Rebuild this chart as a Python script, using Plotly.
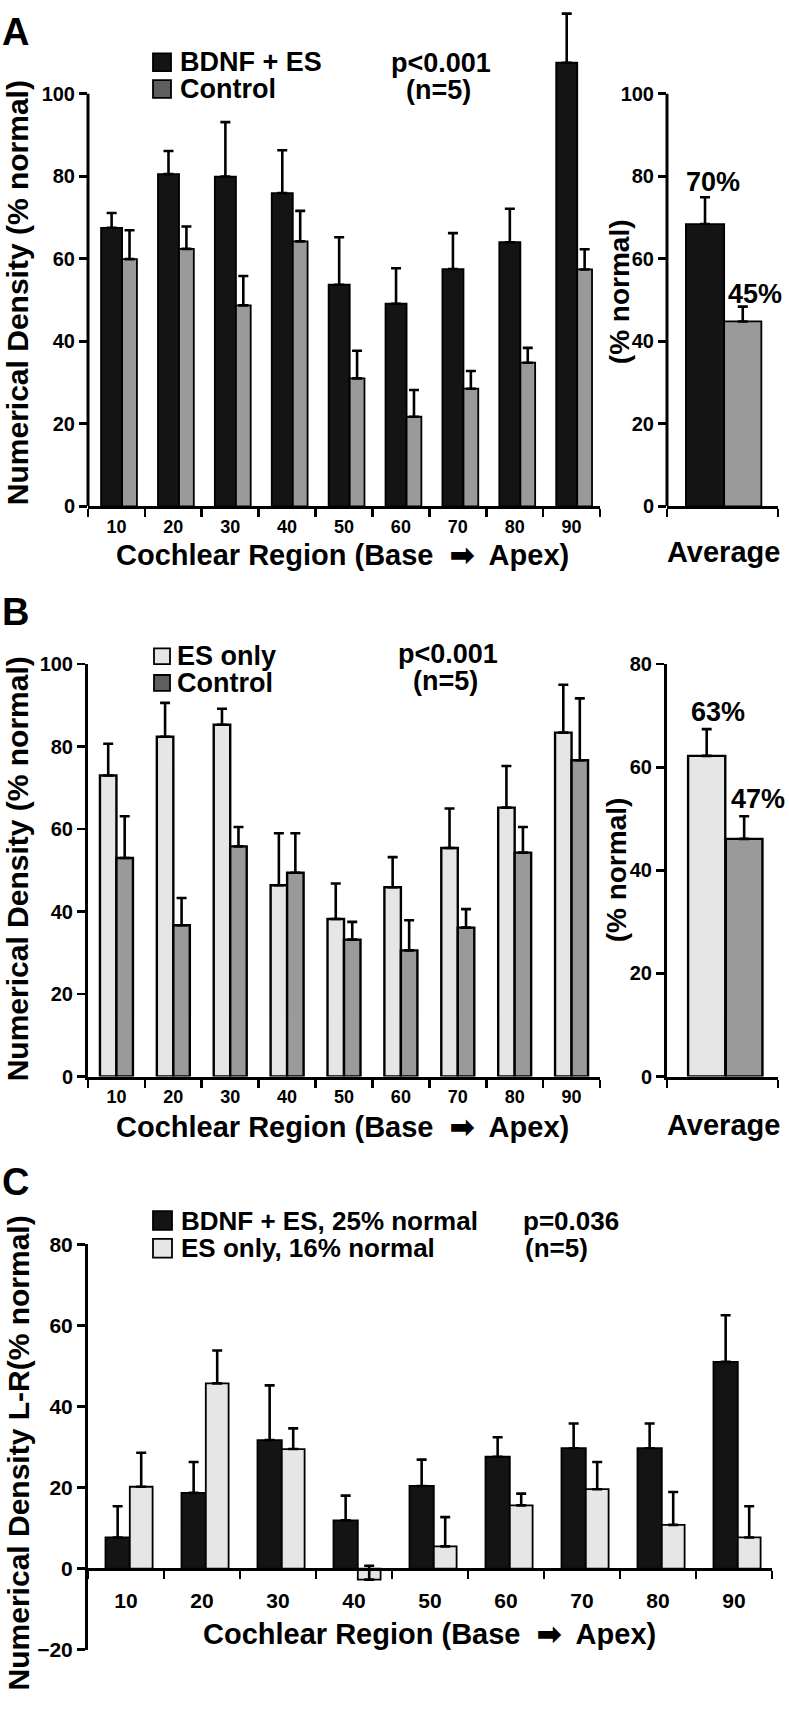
import plotly.graph_objects as go

# ── Data ──────────────────────────────────────────────────
regions = ["10", "20", "30", "40", "50", "60", "70", "80", "90"]

# Panel A: BDNF + ES vs Control
a_bdnf     = [67.5, 80.5, 79.9, 75.9, 53.7, 49.1, 57.5, 64.0, 107.5]
a_bdnf_sem = [3.6, 5.6, 13.2, 10.4, 11.5, 8.6, 8.7, 8.1, 11.9]
a_ctrl     = [59.9, 62.4, 48.7, 64.2, 31.0, 21.7, 28.5, 34.8, 57.4]
a_ctrl_sem = [7.0, 5.4, 7.1, 7.4, 6.7, 6.5, 4.3, 3.6, 4.9]
a_avg      = [68.4, 44.8]
a_avg_sem  = [6.5, 3.6]
a_avg_lbl  = ["70%", "45%"]

# Panel B: ES only vs Control
b_es       = [73.0, 82.4, 85.3, 46.4, 38.2, 45.9, 55.4, 65.2, 83.4]
b_es_sem   = [7.7, 8.2, 3.9, 12.6, 8.6, 7.3, 9.6, 10.1, 11.6]
b_ctrl     = [53.0, 36.7, 55.8, 49.4, 33.2, 30.6, 36.1, 54.3, 76.7]
b_ctrl_sem = [10.1, 6.6, 4.7, 9.6, 4.3, 7.3, 4.5, 6.2, 15.0]
b_avg      = [62.2, 46.1]
b_avg_sem  = [5.2, 4.4]
b_avg_lbl  = ["63%", "47%"]

# Panel C: L-R difference
c_bdnf     = [7.7, 18.7, 31.7, 11.9, 20.4, 27.6, 29.7, 29.7, 51.0]
c_bdnf_sem = [7.7, 7.6, 13.5, 6.1, 6.5, 4.8, 6.1, 6.1, 11.5]
c_es       = [20.2, 45.7, 29.5, -2.7, 5.5, 15.6, 19.6, 10.8, 7.7]
c_es_sem   = [8.4, 8.1, 5.1, 3.4, 7.2, 2.9, 6.7, 8.1, 7.7]

# ── Styling ───────────────────────────────────────────────
W, H = 789, 1716
FONT = "Liberation Sans, Arial, Helvetica, sans-serif"
BLACK = "#141414"
GRAY = "#9a9a9a"
LIGHT = "#e6e6e6"
SWATCH = "#5e5e5e"


def px(x):
    return x / W


def py(y):
    return 1 - y / H


slot = [i + 0.5 for i in range(len(regions))]


def bar(x, y, sem, color, offset, width, xa, ya, lw=1.8):
    return go.Bar(
        x=x, y=y, offset=offset, width=width,
        marker=dict(color=color, line=dict(color="black", width=lw)),
        error_y=dict(type="data", symmetric=False, array=sem,
                     arrayminus=[0] * len(y), color="black",
                     thickness=2.6, width=5),
        xaxis=xa, yaxis=ya, showlegend=False, hoverinfo="skip",
    )


fig = go.Figure()

# Panel A
fig.add_trace(bar(slot, a_bdnf, a_bdnf_sem, BLACK, -0.27, 0.37, "x", "y"))
fig.add_trace(bar(slot, a_ctrl, a_ctrl_sem, GRAY, 0.10, 0.26, "x", "y"))
fig.add_trace(bar([0.5], a_avg[:1], a_avg_sem[:1], BLACK, -0.33, 0.345, "x2", "y2"))
fig.add_trace(bar([0.5], a_avg[1:], a_avg_sem[1:], GRAY, 0.015, 0.335, "x2", "y2"))

# Panel B
fig.add_trace(bar(slot, b_es, b_es_sem, LIGHT, -0.29, 0.29, "x3", "y3", lw=2.4))
fig.add_trace(bar(slot, b_ctrl, b_ctrl_sem, GRAY, 0.0, 0.29, "x3", "y3", lw=2.4))
fig.add_trace(bar([0.5], b_avg[:1], b_avg_sem[:1], LIGHT, -0.31, 0.335, "x4", "y4", lw=2.4))
fig.add_trace(bar([0.5], b_avg[1:], b_avg_sem[1:], GRAY, 0.03, 0.33, "x4", "y4", lw=2.4))

# Panel C
fig.add_trace(bar(slot, c_bdnf, c_bdnf_sem, BLACK, -0.27, 0.32, "x5", "y5"))
fig.add_trace(bar(slot, c_es, c_es_sem, LIGHT, 0.05, 0.30, "x5", "y5"))


# ── Axes ──────────────────────────────────────────────────
def tickfont(size):
    return dict(family=FONT, size=size, color="black", weight="bold")


def yax(domain, rng, tickvals, anchor, showline=True, size=20):
    return dict(domain=domain, range=rng, tickvals=tickvals,
                ticks="outside", ticklen=8, tickwidth=2.6, tickcolor="black",
                showline=showline, linewidth=3, linecolor="black",
                showgrid=False, zeroline=False, anchor=anchor,
                tickfont=tickfont(size), fixedrange=True)


def xcat(domain, anchor, standoff=2, size=18, **kw):
    d = dict(domain=domain, range=[0, len(regions)], tickvals=slot,
             ticktext=regions, ticks="", showline=True, linewidth=3,
             linecolor="black", showgrid=False, zeroline=False,
             anchor=anchor, tickfont=tickfont(size),
             ticklabelstandoff=standoff, fixedrange=True,
             minor=dict(tick0=0, dtick=1, ticks="outside", ticklen=8,
                        tickwidth=2.6, tickcolor="black", showgrid=False))
    d.update(kw)
    return d


def xavg(domain, anchor):
    return dict(domain=domain, range=[0, 1], tickvals=[0, 1],
                ticktext=["", ""], ticks="outside", ticklen=8, tickwidth=2.6,
                tickcolor="black", showline=True, linewidth=3,
                linecolor="black", showgrid=False, zeroline=False,
                anchor=anchor, fixedrange=True)


left_x = [px(88), px(600)]
right_x = [px(667), px(778)]
a_y = [py(501), 1.0]
b_y = [py(1079), py(661)]
c_y = [py(1660), py(1249)]
c_range = [-20, 80]
c_zero = c_y[0] + (0 - c_range[0]) / (c_range[1] - c_range[0]) * (c_y[1] - c_y[0])

fig.update_layout(
    xaxis=xcat(left_x, "y"),
    yaxis=yax(a_y, [0, 119.8], [0, 20, 40, 60, 80, 100], "x", showline=False),
    xaxis2=xavg(right_x, "y2"),
    yaxis2=yax(a_y, [0, 119.8], [0, 20, 40, 60, 80, 100], "x2", showline=False),
    xaxis3=xcat(left_x, "y3"),
    yaxis3=yax(b_y, [0, 100], [0, 20, 40, 60, 80, 100], "x3"),
    xaxis4=xavg(right_x, "y4"),
    yaxis4=yax(b_y, [0, 80], [0, 20, 40, 60, 80], "x4"),
    xaxis5=xcat([px(88), px(772)], "free", standoff=12, size=21,
                position=c_zero),
    yaxis5=yax(c_y, c_range, [-20, 0, 20, 40, 60, 80], "x5", size=21),
)

# y axis lines that stop at 100 in panel A
for xr, yr in [("x domain", "y"), ("x2 domain", "y2")]:
    fig.add_shape(type="line", xref=xr, yref=yr, x0=0, x1=0, y0=0, y1=100,
                  line=dict(color="black", width=3))


# ── Text ──────────────────────────────────────────────────
def note(text, x, y, size=27, angle=0, xanchor="center"):
    fig.add_annotation(
        text=text, x=px(x), y=py(y), xref="paper", yref="paper",
        xanchor=xanchor, yanchor="middle", showarrow=False, textangle=angle,
        font=dict(family=FONT, size=size, color="black", weight="bold"))


note("A", 16, 20, size=38)
note("B", 16, 608, size=38)
note("C", 16, 1186, size=38)

note("Numerical Density (% normal)", 17, 285, size=30, angle=-90)
note("Numerical Density (% normal)", 17, 869, size=30, angle=-90)
note("Numerical Density L-R(% normal)", 18, 1461, size=30, angle=-90)
note("(% normal)", 619, 284, size=28, angle=-90)
note("(% normal)", 616, 870, size=28, angle=-90)

title = "Cochlear Region (Base  \u27a1  Apex)"
note(title, 342, 550, size=29)
note(title, 342, 1130, size=29)
note(title, 429, 1644, size=29)
note("Average", 723, 547, size=29)
note("Average", 723, 1128, size=29)

note("p<0.001", 441, 52)
note("(n=5)", 438, 79)
note("p<0.001", 448, 651)
note("(n=5)", 445, 678)
note("p=0.036", 571, 1225, size=26)
note("(n=5)", 556, 1253, size=26)

# percentage labels above the average bars
for lbls, spots in [(a_avg_lbl, [(713, 172), (755, 286)]),
                    (b_avg_lbl, [(718, 710), (758, 798)])]:
    for t, (x, y) in zip(lbls, spots):
        note(t, x, y, size=27)


# ── Legend keys ───────────────────────────────────────────
def key(entries, x0, size_px, rows, text_x, font_size):
    for (label, color), yc in zip(entries, rows):
        h = size_px / 2
        fig.add_shape(type="rect", xref="paper", yref="paper",
                      x0=px(x0), x1=px(x0 + size_px),
                      y0=py(yc + h), y1=py(yc - h),
                      fillcolor=color, line=dict(color="black", width=1.8))
        note(label, text_x, yc, size=font_size, xanchor="left")


key([("BDNF + ES", BLACK), ("Control", SWATCH)], 153, 18, [51, 78], 178, 27)
key([("ES only", LIGHT), ("Control", SWATCH)], 154, 16, [653, 680], 175, 27)
key([("BDNF + ES, 25% normal", BLACK), ("ES only, 16% normal", LIGHT)],
    153, 19, [1225, 1253], 179, 26)

fig.update_layout(
    width=W, height=H,
    margin=dict(l=0, r=0, t=0, b=0),
    paper_bgcolor="white", plot_bgcolor="white",
    barmode="overlay", hovermode=False, showlegend=False,
    font=dict(family=FONT, color="black"),
)

fig.write_html("out.html",
               config={"displayModeBar": False, "staticPlot": True},
               post_script="document.body.style.margin='0';"
                           "document.body.style.overflow='hidden';")
